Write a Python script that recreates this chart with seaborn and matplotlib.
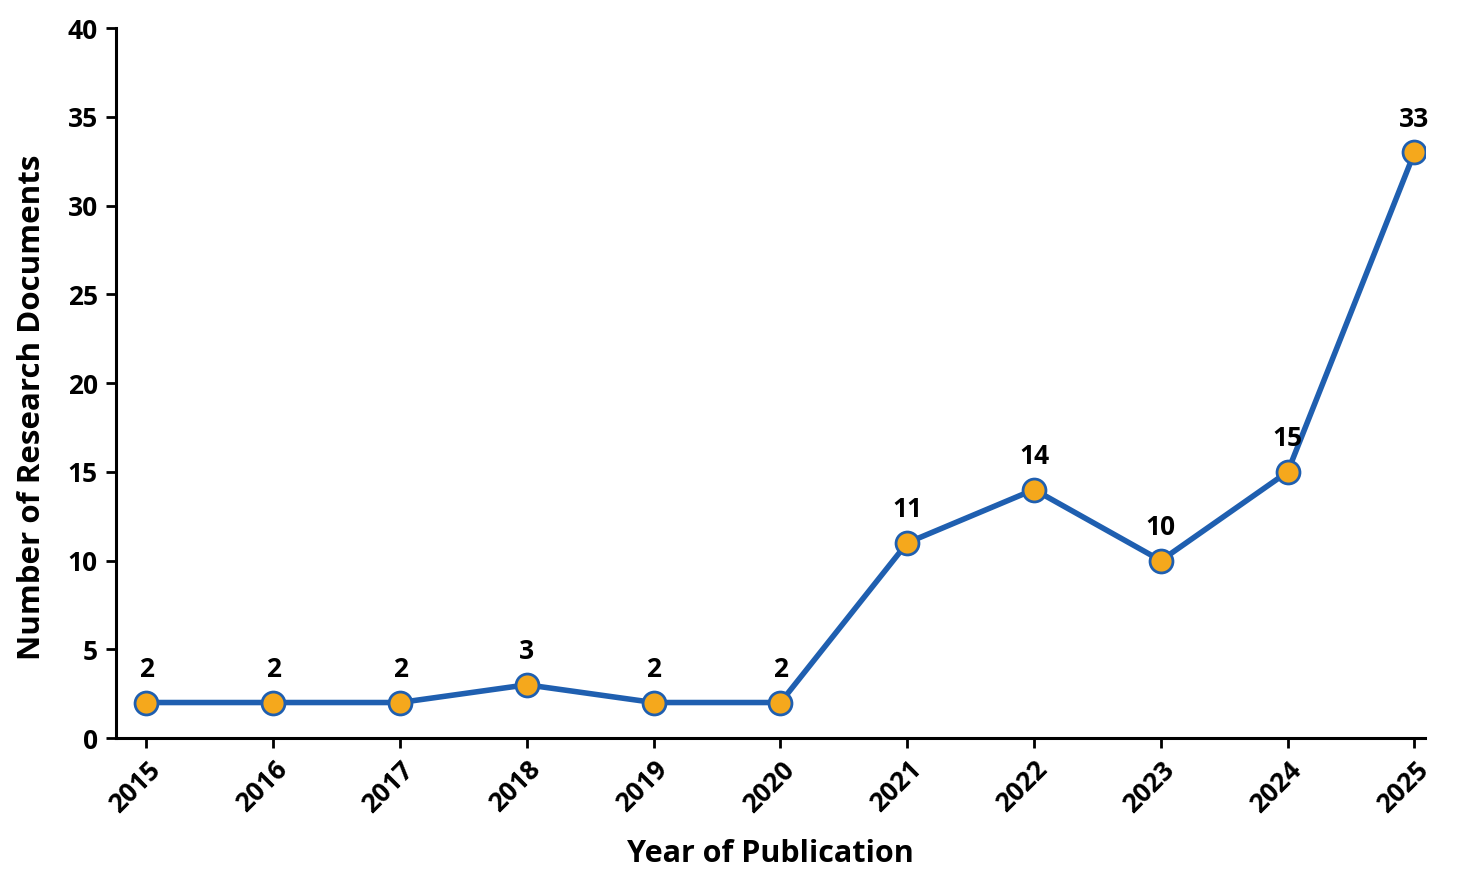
import numpy as np
import pandas as pd
import matplotlib
matplotlib.use('Agg')
import matplotlib.pyplot as plt
import seaborn as sns

# --- data ---
years = [2015, 2016, 2017, 2018, 2019, 2020, 2021, 2022, 2023, 2024, 2025]
docs = [2, 2, 2, 3, 2, 2, 11, 14, 10, 15, 33]

df = pd.DataFrame({'Year': years, 'Documents': docs})

sns.set_theme(style='white')
plt.rcParams['font.family'] = ['Open Sans', 'DejaVu Sans']
plt.rcParams['font.weight'] = 'bold'
plt.rcParams['text.color'] = 'black'
plt.rcParams['axes.labelcolor'] = 'black'

line_blue = '#1F5FB0'
dot_orange = '#F5A81C'

fig = plt.figure(figsize=(14.76, 8.81), dpi=100)
ax = fig.add_axes([0.0786, 0.1623, 0.8866, 0.8057])

sns.lineplot(data=df, x='Year', y='Documents', ax=ax, color=line_blue,
             linewidth=4, marker='o', markersize=16.5,
             markerfacecolor=dot_orange, markeredgecolor=line_blue,
             markeredgewidth=2)

# value labels above each point
for x, y in zip(years, docs):
    ax.annotate(str(y), (x, y), xytext=(0, 14), textcoords='offset points',
                ha='center', va='bottom', fontsize=19, fontweight='bold',
                color='black')

ax.set_xlim(2014.76, 2025.08)
ax.set_ylim(0, 40)
ax.set_xticks(years)
ax.set_yticks(np.arange(0, 41, 5))
ax.set_xticklabels([str(y) for y in years], rotation=45, ha='right',
                   rotation_mode='anchor', fontsize=19, fontweight='bold')
ax.set_yticklabels([str(v) for v in range(0, 41, 5)], fontsize=19,
                   fontweight='bold')

ax.set_xlabel('Year of Publication', fontsize=22, fontweight='bold', labelpad=15)
ax.set_ylabel('Number of Research Documents', fontsize=22.5, fontweight='bold')
ax.yaxis.set_label_coords(-0.053, 0.466)

sns.despine(ax=ax)
for side in ['left', 'bottom']:
    ax.spines[side].set_linewidth(2.2)
    ax.spines[side].set_color('black')
ax.tick_params(axis='both', direction='out', length=7, width=2, colors='black',
               left=True, bottom=True, pad=6)

fig.savefig('out.png', dpi=100, facecolor='white')
